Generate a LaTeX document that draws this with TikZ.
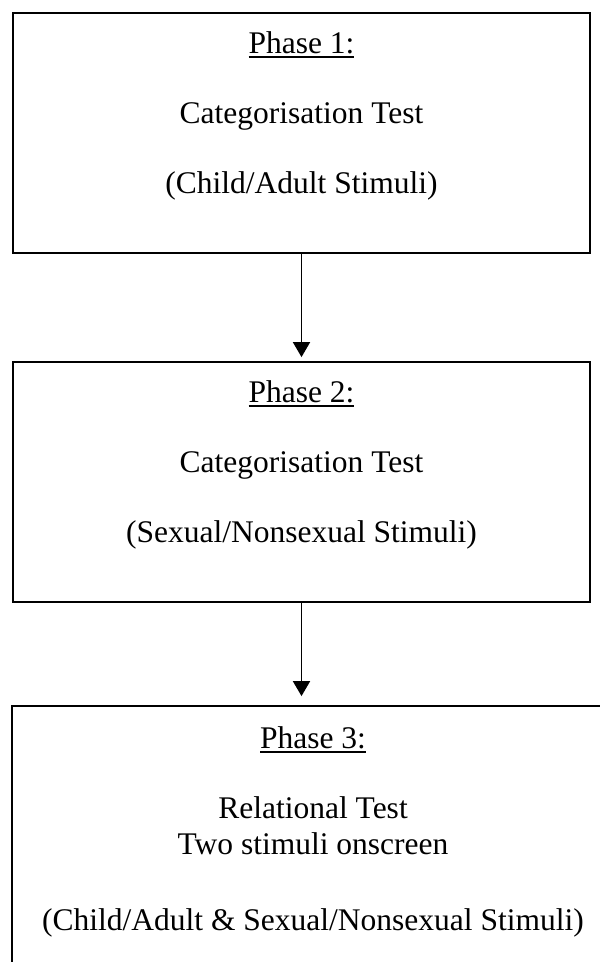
\documentclass[tikz,border=0pt]{standalone}
\usepackage{fontspec}
\setmainfont{Liberation Serif}
\usetikzlibrary{arrows.meta}
% thick underline placed a little below the baseline
\newcommand\phaseul[1]{\setbox0\hbox{#1}\rlap{\rule[-5pt]{\wd0}{1.8pt}}\box0}
\begin{document}
\begin{tikzpicture}[x=1pt,y=-1pt,
  phasebox/.style={draw,line width=1.8pt,inner sep=0pt},
  txt/.style={anchor=base,inner sep=0pt,font=\fontsize{31.5}{36}\selectfont},
  flow/.style={line width=1.8pt,-{Triangle[width=17pt,length=15pt]}}]
\useasboundingbox (0,0) rectangle (600,962);
\clip (0,0) rectangle (600,962);
% boxes
\node[phasebox,minimum width=577pt,minimum height=240pt] (b1) at (301.5,133) {};
\node[phasebox,minimum width=577pt,minimum height=240pt] (b2) at (301.5,482) {};
\node[phasebox,minimum width=602pt,minimum height=300pt] (b3) at (313,856) {};
% texts of phase 1
\node[txt] (p1) at (301.5,53) {\phaseul{Phase 1:}};
\node[txt] (c1) at (301.5,123) {Categorisation Test};
\node[txt] (s1) at (301.5,193) {(Child/Adult Stimuli)};
% texts of phase 2
\node[txt] (p2) at (301.5,402) {\phaseul{Phase 2:}};
\node[txt] (c2) at (301.5,472) {Categorisation Test};
\node[txt] (s2) at (301.5,542) {(Sexual/Nonsexual Stimuli)};
% texts of phase 3
\node[txt] (p3) at (313,748) {\phaseul{Phase 3:}};
\node[txt] (r3) at (313,818) {Relational Test};
\node[txt] (t3) at (313,854) {Two stimuli onscreen};
\node[txt] (s3) at (313,930) {(Child/Adult \& Sexual/Nonsexual Stimuli)};
% connectors
\draw[flow,shorten >=4pt] (b1.south) -- (b2.north);
\draw[flow,shorten >=9pt] (b2.south) -- (b2.south |- b3.north);
\end{tikzpicture}
\end{document}
